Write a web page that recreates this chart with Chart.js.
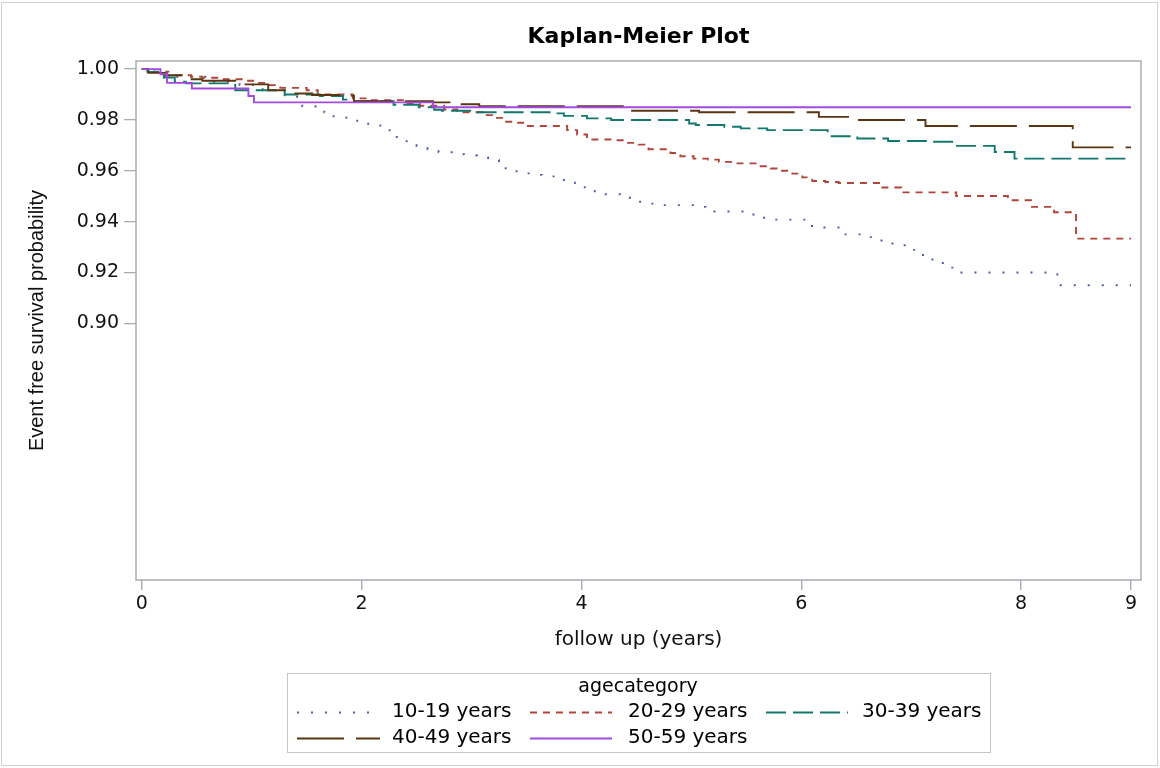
<!DOCTYPE html>
<html>
<head>
<meta charset="utf-8">
<title>Kaplan-Meier Plot</title>
<script src="https://cdn.jsdelivr.net/npm/chart.js@4.4.1/dist/chart.umd.min.js"></script>
<style>
  html, body { margin: 0; padding: 0; background: #fff; }
  #km { display: block; }
</style>
</head>
<body>
<canvas id="km" width="1160" height="768"></canvas>
<script>
// survival estimates (time in years, probability)
const groups = ['10-19 years', '20-29 years', '30-39 years', '40-49 years', '50-59 years'];

const time10 = [0, 0.1, 0.3, 0.6, 0.89, 1.10, 1.30, 1.46, 1.58, 1.66, 1.745, 1.86, 1.96, 2.06, 2.17, 2.255, 2.32, 2.41, 2.5, 2.6, 2.7, 2.82, 2.93, 3.05, 3.15, 3.25, 3.31, 3.41, 3.53, 3.64, 3.76, 3.84, 3.94, 4.03, 4.12, 4.36, 4.44, 4.55, 4.67, 5.05, 5.13, 5.49, 5.59, 5.71, 6.04, 6.16, 6.35, 6.58, 6.68, 6.78, 6.9, 6.98, 7.06, 7.15, 7.24, 7.33, 7.41, 8.33, 9.0];
const surv10 = [1, 0.999, 0.997, 0.995, 0.9937, 0.9917, 0.9891, 0.9854, 0.9848, 0.983, 0.981, 0.9803, 0.9793, 0.9778, 0.9773, 0.9755, 0.9728, 0.9709, 0.9697, 0.9685, 0.9673, 0.9665, 0.966, 0.9652, 0.9642, 0.9627, 0.9604, 0.959, 0.9584, 0.9578, 0.9571, 0.9554, 0.954, 0.9521, 0.9508, 0.9496, 0.9478, 0.9471, 0.9465, 0.9458, 0.944, 0.9428, 0.9415, 0.9408, 0.9383, 0.9377, 0.935, 0.9339, 0.9326, 0.9314, 0.9307, 0.9289, 0.9269, 0.9251, 0.9237, 0.9219, 0.920, 0.915, 0.915];

const time20 = [0, 0.1, 0.23, 0.45, 0.55, 0.7, 0.94, 1.05, 1.15, 1.26, 1.5, 1.6, 1.92, 2.06, 2.4, 2.53, 2.75, 2.87, 3.1, 3.19, 3.29, 3.41, 3.5, 3.87, 3.96, 4.05, 4.28, 4.39, 4.52, 4.61, 4.81, 4.9, 5.02, 5.15, 5.25, 5.36, 5.62, 5.72, 5.81, 5.92, 6.01, 6.1, 6.22, 6.34, 6.72, 6.91, 7.41, 7.88, 8.09, 8.3, 8.5, 9.0];
const surv20 = [1, 0.999, 0.9976, 0.997, 0.9966, 0.996, 0.9954, 0.9946, 0.9937, 0.9926, 0.9917, 0.990, 0.9885, 0.9878, 0.9865, 0.9856, 0.9841, 0.983, 0.9819, 0.9808, 0.9793, 0.9789, 0.9776, 0.976, 0.9743, 0.9723, 0.972, 0.971, 0.9703, 0.9685, 0.967, 0.9657, 0.9648, 0.9644, 0.9635, 0.9629, 0.9618, 0.9609, 0.96, 0.9589, 0.9574, 0.956, 0.9556, 0.9552, 0.9534, 0.9515, 0.9501, 0.9484, 0.9458, 0.9437, 0.9333, 0.9333];

const time30 = [0, 0.05, 0.2, 0.3, 0.4, 0.85, 1.3, 1.62, 1.83, 1.93, 2.29, 2.52, 2.66, 2.73, 3.0, 3.75, 3.84, 4.05, 4.27, 4.98, 5.04, 5.3, 5.45, 5.69, 6.24, 6.51, 6.79, 7.16, 7.39, 7.76, 7.94, 9.0];
const surv30 = [1, 0.9989, 0.9967, 0.995, 0.9944, 0.9917, 0.990, 0.9894, 0.988, 0.9874, 0.986, 0.985, 0.984, 0.9836, 0.983, 0.9826, 0.9816, 0.9806, 0.98, 0.9786, 0.978, 0.9773, 0.9767, 0.976, 0.9736, 0.9727, 0.9717, 0.9714, 0.9698, 0.9674, 0.9648, 0.9648];

const time40 = [0, 0.06, 0.21, 0.43, 0.55, 0.9, 1.15, 1.38, 1.55, 1.82, 1.93, 2.65, 2.87, 3.07, 4.4, 5.07, 6.16, 6.48, 7.13, 8.47, 9.0];
const surv40 = [1, 0.9985, 0.9976, 0.996, 0.9954, 0.994, 0.9917, 0.9904, 0.9898, 0.9895, 0.9874, 0.9869, 0.9862, 0.9854, 0.9836, 0.983, 0.9812, 0.980, 0.9776, 0.9692, 0.9692];

const time50 = [0, 0.17, 0.23, 0.455, 0.97, 1.02, 2.65, 9.0];
const surv50 = [1, 0.998, 0.9946, 0.9924, 0.9894, 0.9869, 0.985, 0.985];

const xTicks = [0, 2, 4, 6, 8, 9];
const yTicks = [0.90, 0.92, 0.94, 0.96, 0.98, 1.00];

const times = [time10, time20, time30, time40, time50];
const survs = [surv10, surv20, surv30, surv40, surv50];
const colors = ['#4d5ca6', '#b0463b', '#12776c', '#5a3512', '#a24ae0'];
const dashes = [[2, 12], [7, 6], [20, 7], [47, 12], []];

const TXT = '"DejaVu Sans", sans-serif';
const AXIS = '#a8adb2';

function toPoints(t, s) {
  return t.map((x, i) => ({ x: x, y: s[i] }));
}

// frame, title and the boxed legend
const kmDecor = {
  id: 'kmDecor',
  afterDraw(chart) {
    const { ctx, chartArea: a } = chart;
    ctx.save();
    ctx.strokeStyle = '#d2d2d2';
    ctx.lineWidth = 1;
    ctx.strokeRect(1.5, 2.5, 1156, 763);

    ctx.strokeStyle = AXIS;
    ctx.lineWidth = 1.5;
    ctx.strokeRect(a.left, a.top, a.right - a.left, a.bottom - a.top);

    ctx.fillStyle = '#000';
    ctx.font = 'bold 22px ' + TXT;
    ctx.textAlign = 'center';
    ctx.textBaseline = 'alphabetic';
    ctx.fillText('Kaplan-Meier Plot', (a.left + a.right) / 2, 43);

    // legend
    ctx.strokeStyle = '#c6c6c6';
    ctx.lineWidth = 1;
    ctx.strokeRect(287.5, 673.5, 703, 79);
    ctx.font = '19px ' + TXT;
    ctx.textBaseline = 'middle';
    ctx.fillText('agecategory', 638, 687);

    const slots = [
      [297, 377, 392, 712], [530, 612, 628, 712], [766, 848, 862, 712],
      [297, 380, 392, 738], [530, 612, 628, 738]
    ];
    ctx.textAlign = 'left';
    ctx.font = '20px ' + TXT;
    slots.forEach((s, i) => {
      ctx.beginPath();
      ctx.strokeStyle = colors[i];
      ctx.lineWidth = 1.9;
      ctx.setLineDash(dashes[i]);
      ctx.moveTo(s[0], s[3] + 0.5);
      ctx.lineTo(s[1], s[3] + 0.5);
      ctx.stroke();
      ctx.setLineDash([]);
      ctx.fillStyle = '#000';
      ctx.fillText(groups[i], s[2], s[3]);
    });
    ctx.restore();
  }
};

new Chart(document.getElementById('km'), {
  type: 'line',
  data: {
    datasets: groups.map((g, i) => ({
      label: g,
      data: toPoints(times[i], survs[i]),
      borderColor: colors[i],
      borderDash: dashes[i],
      borderWidth: 1.9,
      stepped: true,
      pointRadius: 0,
      fill: false,
      order: groups.length - i
    }))
  },
  options: {
    responsive: false,
    animation: false,
    layout: { padding: { top: 61, right: 19, bottom: 0, left: 0 } },
    plugins: {
      legend: { display: false },
      tooltip: { enabled: false }
    },
    scales: {
      x: {
        type: 'linear',
        min: -0.053,
        max: 9.091,
        afterBuildTicks: s => { s.ticks = xTicks.map(v => ({ value: v })); },
        afterFit: s => { s.height = 188; },
        border: { display: false },
        grid: { drawOnChartArea: false, drawTicks: true, tickLength: 10, color: AXIS, lineWidth: 1.4 },
        ticks: { padding: 3, color: '#111', font: { family: TXT, size: 19 }, callback: v => String(v) },
        title: {
          display: true, text: 'follow up (years)', color: '#111',
          font: { family: TXT, size: 20 }, padding: { top: 0, bottom: 116 }
        }
      },
      y: {
        min: 0.79902,
        max: 1.00319,
        afterBuildTicks: s => { s.ticks = yTicks.map(v => ({ value: v })); },
        afterFit: s => { s.width = 136; },
        border: { display: false },
        grid: { drawOnChartArea: false, drawTicks: true, tickLength: 12, color: AXIS, lineWidth: 1.3 },
        ticks: { padding: 5, color: '#111', font: { family: TXT, size: 19 }, callback: v => v.toFixed(2) },
        title: {
          display: true, text: 'Event free survival probability', color: '#111',
          font: { family: '"Liberation Sans", Arial, sans-serif', size: 20 }, padding: { top: 25, bottom: 0 }
        }
      }
    }
  },
  plugins: [kmDecor]
});
</script>
</body>
</html>
